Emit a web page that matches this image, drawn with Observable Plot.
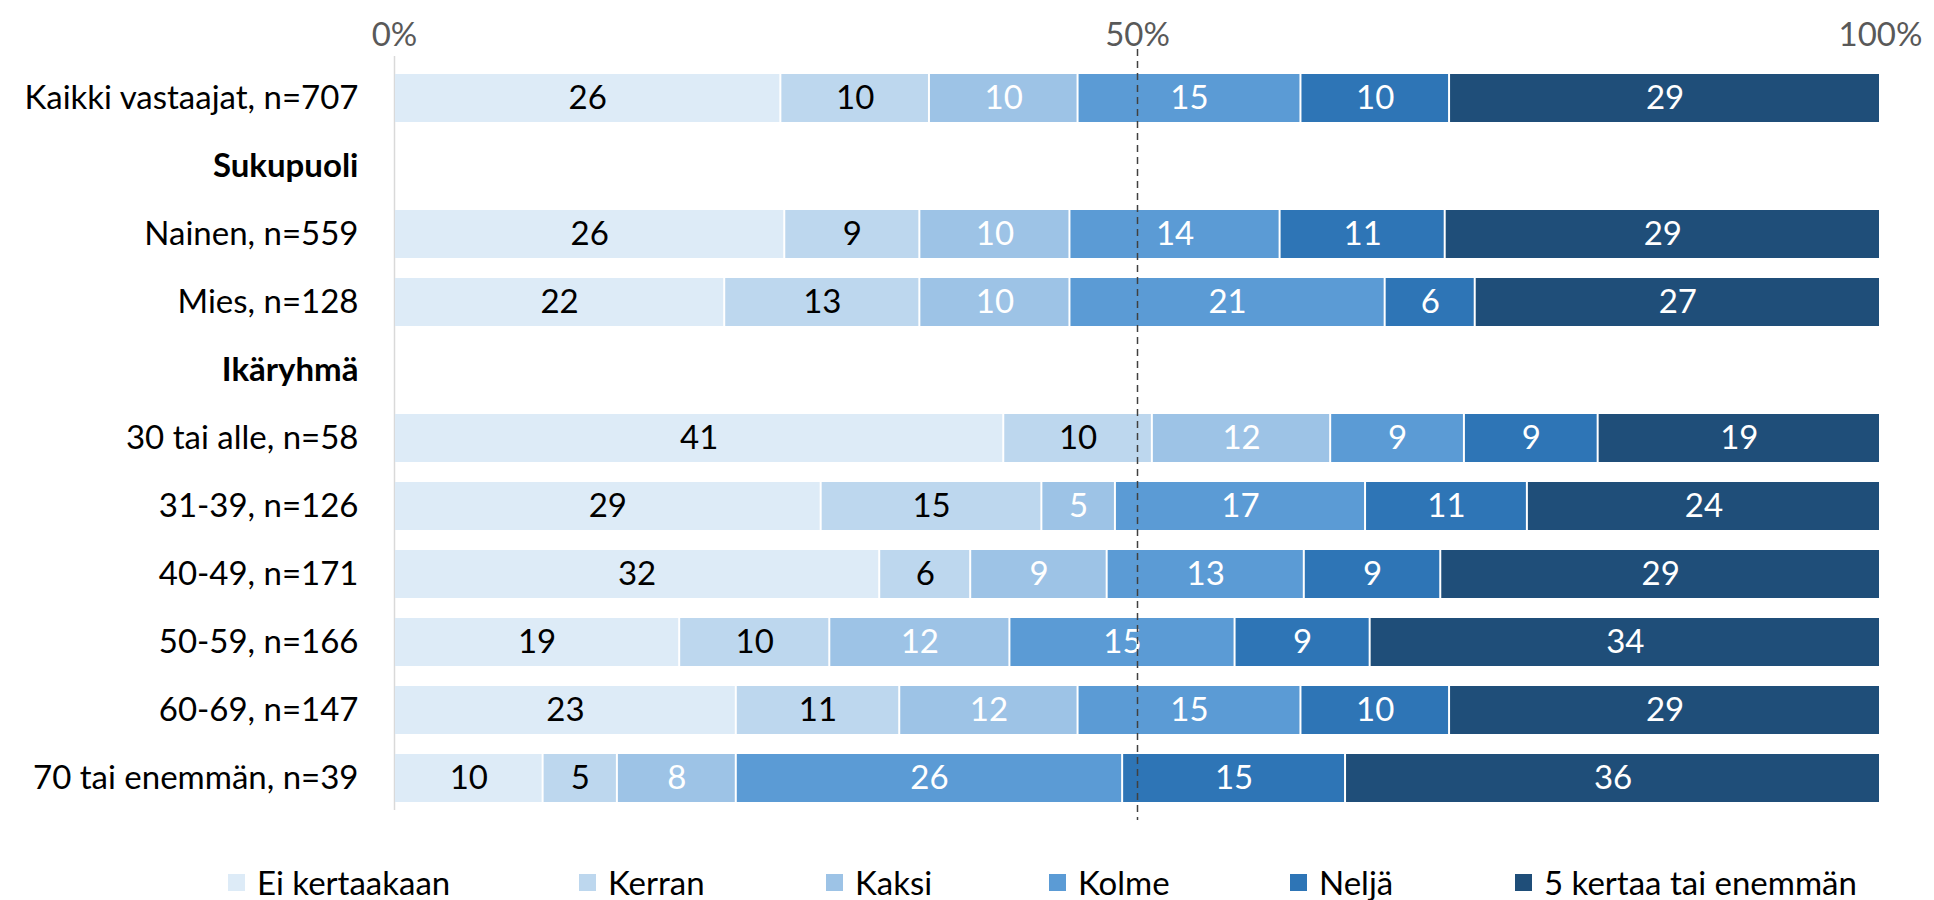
<!DOCTYPE html>
<html><head><meta charset="utf-8">
<script src="https://cdn.jsdelivr.net/npm/d3@7"></script>
<script src="https://cdn.jsdelivr.net/npm/@observablehq/plot@0.6"></script>
<style>
body{margin:0;background:#fff;font-family:Lato, sans-serif;}
#legend{position:relative;width:1934px;height:40px;margin-top:12px;}
.item{position:absolute;top:0;height:40px;display:flex;align-items:center;font-size:33px;color:#000;white-space:nowrap}
.sw{width:17px;height:17px;margin-right:12px;flex:none}
</style></head><body>
<div id="chart"></div><div id="legend"></div>
<script>
// Rows of the chart (top to bottom), including group headers
const rows = ["Kaikki vastaajat, n=707", "Sukupuoli", "Nainen, n=559", "Mies, n=128", "Ikäryhmä",
  "30 tai alle, n=58", "31-39, n=126", "40-49, n=171", "50-59, n=166", "60-69, n=147", "70 tai enemmän, n=39"];
const headers = ["Sukupuoli", "Ikäryhmä"];
const dataRows = ["Kaikki vastaajat, n=707", "Nainen, n=559", "Mies, n=128", "30 tai alle, n=58",
  "31-39, n=126", "40-49, n=171", "50-59, n=166", "60-69, n=147", "70 tai enemmän, n=39"];
const series = ["Ei kertaakaan", "Kerran", "Kaksi", "Kolme", "Neljä", "5 kertaa tai enemmän"];
// Series values (%), aligned with dataRows
const eiKertaakaan = [26, 26, 22, 41, 29, 32, 19, 23, 10];
const kerran       = [10,  9, 13, 10, 15,  6, 10, 11,  5];
const kaksi        = [10, 10, 10, 12,  5,  9, 12, 12,  8];
const kolme        = [15, 14, 21,  9, 17, 13, 15, 15, 26];
const nelja        = [10, 11,  6,  9, 11,  9,  9, 10, 15];
const viisiTaiYli  = [29, 29, 27, 19, 24, 29, 34, 29, 36];
const tickValues = [0, 0.5, 1];
const colors = ["#DDEBF7", "#BDD7EE", "#9DC3E6", "#5B9BD5", "#2E75B6", "#1F4E79"];

const seriesValues = [eiKertaakaan, kerran, kaksi, kolme, nelja, viisiTaiYli];
const data = [];
dataRows.forEach((r, i) => series.forEach((s, j) => data.push({row: r, series: s, value: seriesValues[j][i], idx: j})));

const stackOpts = (extra) => Plot.stackX({x: "value", y: "row", offset: "normalize", ...extra});

const chart = Plot.plot({
  width: 1934,
  height: 850,
  marginLeft: 394,
  marginRight: 54,
  marginTop: 52,
  marginBottom: 27,
  x: {domain: [0, 1], axis: null},
  y: {domain: rows, axis: null, padding: 0.3},
  color: {domain: series, range: colors},
  style: {fontSize: "33px", fontFamily: "Lato, sans-serif", background: "white", overflow: "visible"},
  marks: [
    Plot.ruleX([0], {stroke: "#d9d9d9", strokeWidth: 1.5, insetTop: 4, insetBottom: 13}),
    Plot.barX(data, stackOpts({fill: "series", insetLeft: 1, insetRight: 1})),
    Plot.text(data, stackOpts({text: d => d.idx < 2 ? String(d.value) : "", fill: "#000"})),
    Plot.text(data, stackOpts({text: d => d.idx >= 2 ? String(d.value) : "", fill: "#fff"})),
    Plot.ruleX([0.5], {stroke: "#404040", strokeWidth: 1.5, strokeDasharray: "7,5", insetTop: -3, insetBottom: 3}),
    Plot.text(rows.filter(r => !headers.includes(r)), {x: () => 0, y: d => d, text: d => d, textAnchor: "end", dx: -36, fill: "#000"}),
    Plot.text(headers, {x: () => 0, y: d => d, text: d => d, textAnchor: "end", dx: -36, fill: "#000", fontWeight: "bold"}),
    Plot.text(tickValues, {x: d => d, text: d => d3.format(".0%")(d), frameAnchor: "top", dy: -30, fill: "#595959"})
  ]
});
document.getElementById("chart").appendChild(chart);

const legendX = [228, 579, 826, 1049, 1290, 1515];
const legend = document.getElementById("legend");
series.forEach((s, i) => {
  const it = document.createElement("div");
  it.className = "item";
  it.style.left = legendX[i] + "px";
  const sw = document.createElement("span");
  sw.className = "sw";
  sw.style.background = colors[i];
  const t = document.createElement("span");
  t.textContent = s;
  it.appendChild(sw); it.appendChild(t);
  legend.appendChild(it);
});
</script></body></html>
